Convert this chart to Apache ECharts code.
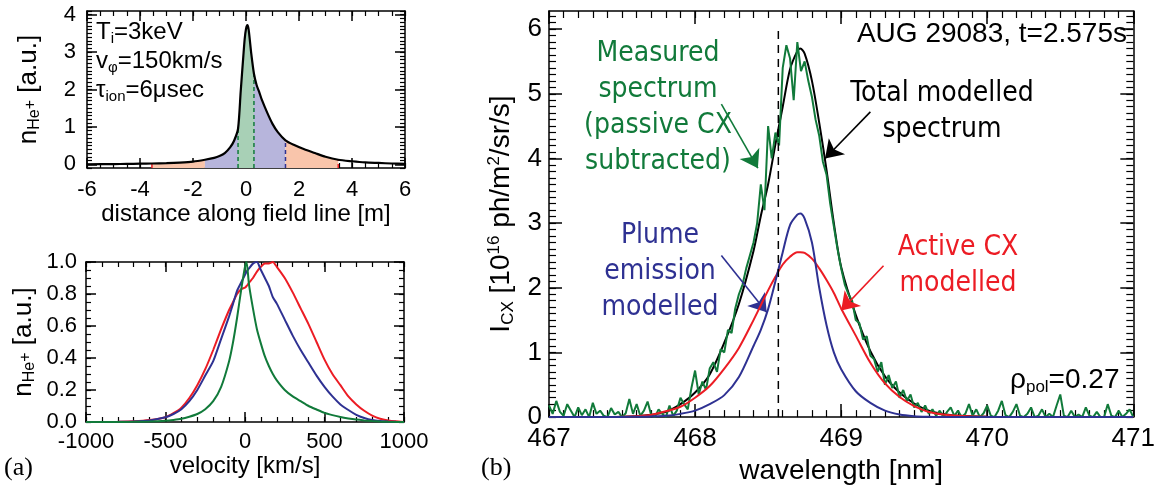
<!DOCTYPE html>
<html><head><meta charset="utf-8">
<script src="https://cdn.jsdelivr.net/npm/echarts@6/dist/echarts.min.js"></script>
<style>html,body{margin:0;padding:0;background:#fff}#c{width:1158px;height:490px}</style>
</head><body><div id="c"></div>
<script>
// ---------------- DATA ----------------
// (a) top: density along field line
const distance = [-6,-5,-4.5,-4,-3.55,-3,-2.5,-2,-1.55,-1.2,-1,-0.8,-0.6,-0.45,-0.3,-0.2,-0.1,-0.05,0,0.05,0.1,0.2,0.3,0.4,0.5,0.6,0.8,1,1.2,1.49,1.8,2.2,2.6,3,3.48,4,4.5,5,5.5,6];
const density  = [0,0.005,0.01,0.015,0.02,0.03,0.045,0.07,0.12,0.17,0.22,0.3,0.45,0.63,0.95,1.95,2.9,3.35,3.62,3.72,3.6,2.95,2.42,2.12,1.93,1.72,1.38,1.08,0.86,0.64,0.52,0.4,0.3,0.2,0.12,0.08,0.05,0.035,0.02,0.01];
const regionEdges  = [-3.55, -1.55, -0.3, 0.3, 1.49, 3.48];
const regionColors = ['#f9c5ab', '#b7b5dc', '#a8d0b6', '#b7b5dc', '#f9c5ab'];
const dashEdges  = [-3.55, -0.3, 0.3, 1.49, 3.48];
const dashColors = ['#ec1c24', '#117a3a', '#117a3a', '#2e3192', '#ec1c24'];
const distTicks = [-6,-4,-2,0,2,4,6];
const densTicks = [0,1,2,3,4];

// (a) bottom: velocity distributions
const velocity = [-1000,-900,-800,-700,-600,-500,-450,-400,-350,-300,-250,-200,-150,-100,-75,-50,-25,0,10,25,50,75,100,125,150,175,200,250,300,350,400,450,500,550,600,650,700,750,800,850,900,950,1000];
const velGreen = [0,0,0,0.001,0.003,0.008,0.013,0.02,0.033,0.05,0.08,0.13,0.22,0.38,0.5,0.65,0.82,0.97,1.0,0.86,0.71,0.58,0.49,0.41,0.35,0.3,0.26,0.2,0.16,0.13,0.1,0.078,0.057,0.043,0.031,0.022,0.015,0.01,0.006,0.003,0.001,0,0];
const velBlue  = [0,0,0.001,0.003,0.01,0.03,0.05,0.08,0.13,0.2,0.29,0.38,0.52,0.66,0.74,0.82,0.87,0.92,0.94,0.96,0.99,1.0,0.95,0.9,0.85,0.78,0.74,0.64,0.54,0.45,0.37,0.29,0.22,0.16,0.11,0.075,0.045,0.025,0.012,0.006,0.003,0.001,0];
const velRed   = [0,0,0.001,0.004,0.012,0.03,0.055,0.09,0.15,0.23,0.33,0.45,0.58,0.7,0.75,0.8,0.83,0.84,0.85,0.87,0.9,0.94,0.97,0.99,0.99,1.0,0.97,0.9,0.81,0.71,0.61,0.5,0.39,0.3,0.23,0.16,0.11,0.07,0.04,0.02,0.01,0.004,0];
const velTicks = [-1000,-500,0,500,1000];
const normTicks = [0,0.2,0.4,0.6,0.8,1.0];

// (b) spectrum
const wavelength = [467.0,467.2,467.4,467.6,467.7,467.8,467.9,468.0,468.1,468.2,468.3,468.4,468.45,468.5,468.55,468.6,468.65,468.7,468.72,468.75,468.8,468.85,468.9,468.95,469.0,469.1,469.2,469.3,469.4,469.5,469.6,469.7,469.8,470.0,470.5,471.0];
const totalModel = [0,0,0.002,0.015,0.035,0.08,0.2,0.38,0.66,1.15,1.75,2.57,3.11,3.6,4.22,4.8,5.38,5.66,5.70,5.62,5.2,4.55,3.82,3.0,2.32,1.58,1.02,0.63,0.38,0.21,0.1,0.05,0.02,0.005,0,0];
const activeCX   = [0,0,0.002,0.015,0.035,0.09,0.16,0.30,0.48,0.75,1.07,1.50,1.73,1.96,2.17,2.36,2.48,2.55,2.55,2.54,2.45,2.30,2.12,1.92,1.68,1.26,0.84,0.52,0.31,0.17,0.08,0.04,0.02,0.005,0,0];
const plume      = [0,0,0,0.005,0.01,0.02,0.05,0.10,0.20,0.34,0.62,1.10,1.35,1.67,2.10,2.55,2.97,3.13,3.15,3.07,2.70,2.00,1.42,1.00,0.74,0.40,0.22,0.10,0.04,0.015,0.005,0,0,0,0,0];
const measuredStart = 467.0, measuredStep = 0.025;
const measured = [
 0.18,0.05,0.25,0.08,0.02,0.2,0.1,0.0,0.15,0.03,0.12,0.0,0.22,0.05,0.1,0.02,0.0,0.14,0.04,0.08,0.0,0.06,0.28,0.05,0.2,0.02,0.1,0.24,0.03,0.0,0.12,0.05,0.0,0.18,0.02,0.1,0.3,
 0.2,0.12,0.45,0.72,0.35,0.55,0.42,0.75,0.85,0.7,1.05,1.0,1.35,1.3,1.68,1.9,2.05,2.3,2.5,2.7,3.0,3.6,3.2,4.5,4.0,4.4,4.2,5.4,5.75,5.55,4.9,5.8,5.35,5.5,5.2,4.95,4.6,4.35,3.95,3.75,3.3,2.95,2.6,
 2.3,2.05,1.9,1.8,1.5,1.45,1.2,1.25,0.95,0.9,0.7,0.85,0.5,0.65,0.45,0.55,0.3,0.42,0.25,0.35,
 0.15,0.22,0.08,0.18,0.05,0.12,0.02,0.1,0.0,0.08,0.15,0.02,0.1,0.0,0.05,0.2,0.02,0.12,0.0,0.06,
 0.18,0.02,0.0,0.1,0.25,0.03,0.0,0.08,0.2,0.02,0.0,0.05,0.15,0.0,0.02,0.12,0.0,0.05,0.0,0.18,
 0.35,0.02,0.0,0.1,0.0,0.04,0.0,0.15,0.02,0.0,0.08,0.0,0.0,0.2,0.02,0.0,0.1,0.0,0.05,0.12,0.0];
const restWavelength = 468.57;
const restLineTop = 6.0;
const wlTicks = [467,468,469,470,471];
const intTicks = [0,1,2,3,4,5,6];
// arrows [from wl, from I, to wl, to I]
const arrowGreen = [468.18, 4.84, 468.43, 3.85];
const arrowBlack = [469.20, 4.72, 468.89, 4.0];
const arrowBlue  = [468.18, 2.50, 468.49, 1.62];
const arrowRed   = [469.29, 2.34, 469.00, 1.65];

// ---------------- STYLE ----------------
const TICK = '#000';
const F  = "'Liberation Sans', Arial, Helvetica, sans-serif";
const FN = "'Liberation Sans Narrow', 'Arial Narrow', 'DejaVu Sans Condensed', sans-serif";
const FS = "'Liberation Serif', 'Times New Roman', serif";
const GREEN = '#117a3a', RED = '#ec1c24', BLUE = '#2e3192';

const zip = (xs, ys) => xs.map((x, i) => [x, ys[i]]);
function steps(a, b, s) { const r = []; for (let k = 0; a + k * s <= b + 1e-9; k++) r.push(+(a + k * s).toFixed(6)); return r; }

function richName(fs) {
  return {
    n:   { fontSize: fs, fontFamily: F, color: '#000' },
    sub: { fontSize: Math.round(fs * 0.62), fontFamily: F, color: '#000', padding: [Math.round(fs * 0.5), 0, 0, 0] },
    sp:  { fontSize: Math.round(fs * 0.62), fontFamily: F, color: '#000', padding: [Math.round(fs * 0.15), 0, 0, 0] },
    sup: { fontSize: Math.round(fs * 0.62), fontFamily: F, color: '#000', padding: [0, 0, Math.round(fs * 0.5), 0] }
  };
}

// boxed plot: major + minor tick axes on all four sides
function boxAxes(g, xr, yr, xMaj, yMaj, xMin, yMin, cfg) {
  const mk = (pos, range, major, minor, isMain, lab, name) => {
    const base = { type: 'value', gridIndex: g, min: range[0], max: range[1], position: pos, splitLine: { show: false } };
    const a1 = Object.assign({}, base, {
      axisLine: { show: true, onZero: false, lineStyle: { color: '#000', width: 1.5 } },
      axisTick: { show: true, inside: true, length: cfg.majLen, customValues: major, lineStyle: { color: TICK, width: 1.5 } },
      axisLabel: isMain ? Object.assign({ show: true, customValues: major, color: '#000', fontFamily: F }, lab) : { show: false }
    }, isMain ? name : {});
    const a2 = Object.assign({}, base, {
      axisLine: { show: false, onZero: false },
      axisTick: { show: true, inside: true, length: cfg.minLen, customValues: minor, lineStyle: { color: TICK, width: 1.2 } },
      axisLabel: { show: false }
    });
    return [a1, a2];
  };
  return {
    x: [...mk('bottom', xr, xMaj, xMin, true, cfg.xLab, cfg.xName), ...mk('top', xr, xMaj, xMin, false)],
    y: [...mk('left', yr, yMaj, yMin, true, cfg.yLab, cfg.yName), ...mk('right', yr, yMaj, yMin, false)]
  };
}

const nHe = '{n|n}{sub|He}{sp|+}{n| [a.u.]}';
const plain = v => String(v);

const A0 = boxAxes(0, [-6, 6], [-0.1, 4.1], distTicks, densTicks, steps(-6, 6, 0.5), steps(-0.1, 4.1, 0.1), {
  majLen: 10, minLen: 5,
  xLab: { fontSize: 22, margin: 11, formatter: plain },
  yLab: { fontSize: 22, margin: 11, formatter: plain },
  xName: { name: 'distance along field line [m]', nameLocation: 'middle', nameGap: 33, nameTextStyle: { fontSize: 24, fontFamily: F, color: '#000' } },
  yName: { name: nHe, nameLocation: 'middle', nameGap: 44, nameTextStyle: { rich: richName(26) } }
});
const A1 = boxAxes(1, [-1000, 1000], [0, 1], velTicks, normTicks, steps(-1000, 1000, 100), steps(0, 1, 0.05), {
  majLen: 10, minLen: 5,
  xLab: { fontSize: 22, margin: 9, formatter: plain },
  yLab: { fontSize: 22, margin: 9, formatter: v => v.toFixed(1) },
  xName: { name: 'velocity [km/s]', nameLocation: 'middle', nameGap: 32, nameTextStyle: { fontSize: 24, fontFamily: F, color: '#000' } },
  yName: { name: nHe, nameLocation: 'middle', nameGap: 48, nameTextStyle: { rich: richName(26) } }
});
const A2 = boxAxes(2, [467, 471], [0, 6.28], wlTicks, intTicks, steps(467, 471, 0.1), steps(0, 6.2, 0.1), {
  majLen: 13, minLen: 7,
  xLab: { fontSize: 26, margin: 9, formatter: plain },
  yLab: { fontSize: 26, margin: 7, formatter: plain },
  xName: { name: 'wavelength [nm]', nameLocation: 'middle', nameGap: 34, nameTextStyle: { fontSize: 28, fontFamily: F, color: '#000' } },
  yName: { name: '{n|I}{sub|CX}{n| [10}{sup|16}{n| ph/m}{sup|2}{n|/sr/s]}', nameLocation: 'middle', nameGap: 22, nameTextStyle: { rich: richName(28) } }
});

const xAxes = [...A0.x, ...A1.x, ...A2.x];
const yAxes = [...A0.y, ...A1.y, ...A2.y];

// ---------------- SERIES ----------------
const series = [];
const lineBase = { type: 'line', symbol: 'none', showSymbol: false, silent: true, animation: false };

for (let k = 0; k < regionColors.length; k++) {
  const i0 = distance.indexOf(regionEdges[k]), i1 = distance.indexOf(regionEdges[k + 1]);
  series.push(Object.assign({}, lineBase, {
    xAxisIndex: 0, yAxisIndex: 0, smooth: 0.25,
    data: zip(distance.slice(i0, i1 + 1), density.slice(i0, i1 + 1)),
    lineStyle: { width: 0 }, areaStyle: { color: regionColors[k], opacity: 1, origin: 'start' }, z: 1
  }));
}
dashEdges.forEach((e, k) => {
  const v = density[distance.indexOf(e)];
  series.push(Object.assign({}, lineBase, {
    xAxisIndex: 0, yAxisIndex: 0, data: [[e, -0.1], [e, v]],
    lineStyle: { color: dashColors[k], width: 1.5, type: [4, 3] }, z: 2
  }));
});
series.push(Object.assign({}, lineBase, {
  xAxisIndex: 0, yAxisIndex: 0, smooth: 0.25, data: zip(distance, density),
  lineStyle: { color: '#000', width: 2.2 }, z: 3
}));

[[velRed, RED], [velBlue, BLUE], [velGreen, GREEN]].forEach(([ys, c]) => {
  series.push(Object.assign({}, lineBase, {
    xAxisIndex: 4, yAxisIndex: 4, smooth: 0.2, data: zip(velocity, ys),
    lineStyle: { color: c, width: 2 }, z: 3
  }));
});

const arrowData = [[arrowGreen, GREEN], [arrowBlack, '#000'], [arrowBlue, BLUE], [arrowRed, RED]].map(([a, c]) => [
  { coord: [a[0], a[1]], lineStyle: { color: c, width: 1.6, type: 'solid' }, itemStyle: { color: c } },
  { coord: [a[2], a[3]] }
]);
series.push(Object.assign({}, lineBase, {
  xAxisIndex: 8, yAxisIndex: 8, smooth: 0.3, data: zip(wavelength, totalModel),
  lineStyle: { color: '#000', width: 2 }, z: 3,
  markLine: { silent: true, animation: false, symbol: ['none', 'arrow'], symbolSize: 17, label: { show: false }, data: arrowData }
}));
series.push(Object.assign({}, lineBase, {
  xAxisIndex: 8, yAxisIndex: 8,
  data: measured.map((v, i) => [measuredStart + i * measuredStep, v]),
  lineStyle: { color: GREEN, width: 2 }, z: 4
}));
series.push(Object.assign({}, lineBase, {
  xAxisIndex: 8, yAxisIndex: 8, smooth: 0.3, data: zip(wavelength, activeCX),
  lineStyle: { color: RED, width: 2 }, z: 5
}));
series.push(Object.assign({}, lineBase, {
  xAxisIndex: 8, yAxisIndex: 8, smooth: 0.3, data: zip(wavelength, plume),
  lineStyle: { color: BLUE, width: 2 }, z: 5
}));
series.push(Object.assign({}, lineBase, {
  xAxisIndex: 8, yAxisIndex: 8, data: [[restWavelength, 0], [restWavelength, restLineTop]],
  lineStyle: { color: '#000', width: 1.5, type: [8, 6] }, z: 6
}));

// ---------------- ANNOTATIONS ----------------
function gtext(x, y, text, st) {
  return { type: 'text', x, y, silent: true, z: 100,
    style: Object.assign({ text, fontFamily: F, fontSize: 24, fill: '#000', align: 'left', verticalAlign: 'middle' }, st || {}) };
}
function richG(fs, lh) {
  return {
    n:   { fontSize: fs, fontFamily: F, fill: '#000', lineHeight: lh },
    sub: { fontSize: Math.round(fs * 0.62), fontFamily: F, fill: '#000', lineHeight: lh, padding: [Math.round(fs * 0.55), 0, 0, 0] }
  };
}
const ann = { fontFamily: FN, fontSize: 28, lineHeight: 36, align: 'center' };
const graphic = [
  gtext(96, 32, '{n|T}{sub|i}{n|=3keV}', { rich: richG(24, 28) }),
  gtext(96, 61, '{n|v}{sub|φ}{n|=150km/s}', { rich: richG(24, 28) }),
  gtext(96, 90, '{n|τ}{sub|ion}{n|=6μsec}', { rich: richG(24, 28) }),
  gtext(4, 468, '(a)', { fontFamily: FS, fontSize: 26 }),
  gtext(481, 468, '(b)', { fontFamily: FS, fontSize: 26 }),
  gtext(1127, 34, 'AUG 29083, t=2.575s', { fontSize: 28, align: 'right' }),
  gtext(1010, 380, '{n|ρ}{sub|pol}{n|=0.27}', { rich: richG(28, 32) }),
  gtext(658, 108, 'Measured\nspectrum\n(passive CX\nsubtracted)', Object.assign({ fill: GREEN }, ann)),
  gtext(942, 112, 'Total modelled\nspectrum', Object.assign({ fill: '#000' }, ann)),
  gtext(660, 272, 'Plume\nemission\nmodelled', Object.assign({ fill: BLUE }, ann)),
  gtext(958, 266, 'Active CX\nmodelled', Object.assign({ fill: RED }, ann))
];

const chart = echarts.init(document.getElementById('c'), null, { renderer: 'canvas' });
chart.setOption({
  animation: false,
  backgroundColor: '#fff',
  grid: [
    { left: 87, top: 11, width: 318, height: 157 },
    { left: 86, top: 262, width: 318, height: 160 },
    { left: 549, top: 11, width: 587, height: 410 }
  ],
  xAxis: xAxes,
  yAxis: yAxes,
  series,
  graphic
});
</script></body></html>
